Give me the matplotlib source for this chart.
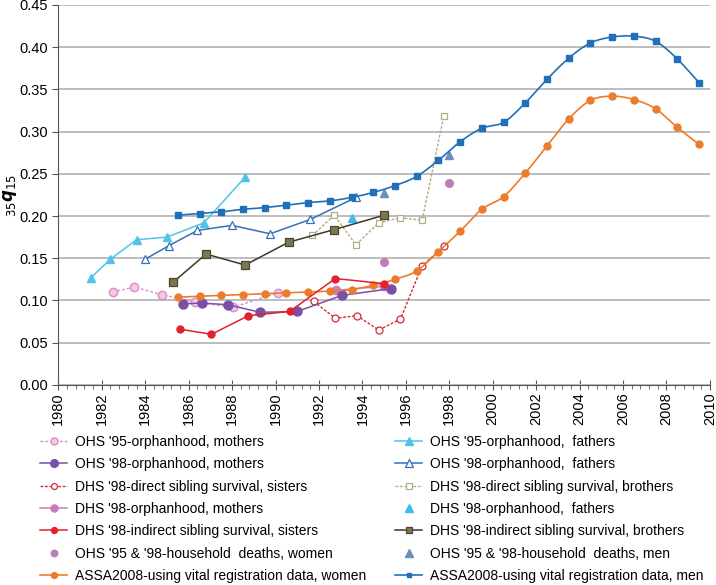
import numpy as np
import matplotlib
matplotlib.use("Agg")
import matplotlib.pyplot as plt
from matplotlib.ticker import MultipleLocator, FormatStrFormatter

plt.rcParams['font.family'] = ['Liberation Sans', 'DejaVu Sans']

# ---------------- data ----------------
ohs95_mothers_x = [1982.5, 1983.5, 1984.75, 1986.3, 1988.05, 1990.1]
ohs95_mothers_y = [0.110, 0.116, 0.107, 0.098, 0.092, 0.109]

ohs98_mothers_x = [1985.75, 1986.6, 1987.8, 1989.3, 1991.0, 1993.05, 1995.3]
ohs98_mothers_y = [0.096, 0.097, 0.095, 0.086, 0.087, 0.106, 0.114]

dhs_direct_sis_x = [1991.75, 1992.75, 1993.75, 1994.75, 1995.75, 1996.75, 1997.75]
dhs_direct_sis_y = [0.099, 0.079, 0.082, 0.065, 0.078, 0.141, 0.164]

dhs_orph_mothers_x = [1992.8, 1995.0]
dhs_orph_mothers_y = [0.112, 0.117]

dhs_indirect_sis_x = [1985.6, 1987.05, 1988.75, 1990.65, 1992.75, 1995.0]
dhs_indirect_sis_y = [0.066, 0.060, 0.082, 0.087, 0.126, 0.120]

hh_women_x = [1995.0, 1998.0]
hh_women_y = [0.146, 0.239]

assa_years = [1985.5 + i for i in range(25)]
assa_women = [0.104, 0.105, 0.106, 0.107, 0.108, 0.109, 0.110, 0.111, 0.113,
              0.118, 0.125, 0.135, 0.158, 0.182, 0.208, 0.223, 0.251, 0.283,
              0.315, 0.337, 0.342, 0.338, 0.327, 0.305, 0.285]
assa_men = [0.201, 0.203, 0.205, 0.208, 0.210, 0.213, 0.216, 0.218, 0.222,
            0.228, 0.236, 0.247, 0.266, 0.288, 0.304, 0.311, 0.334, 0.362,
            0.387, 0.405, 0.412, 0.413, 0.407, 0.386, 0.358]

ohs95_fathers_x = [1981.5, 1982.4, 1983.6, 1985.0, 1986.7, 1988.6]
ohs95_fathers_y = [0.127, 0.149, 0.172, 0.175, 0.192, 0.246]

ohs98_fathers_x = [1984.0, 1985.1, 1986.4, 1988.0, 1989.75, 1991.6, 1993.7]
ohs98_fathers_y = [0.149, 0.165, 0.183, 0.189, 0.179, 0.196, 0.222]

dhs_direct_bro_x = [1991.7, 1992.7, 1993.7, 1994.75, 1995.75, 1996.75, 1997.75]
dhs_direct_bro_y = [0.177, 0.201, 0.166, 0.192, 0.198, 0.195, 0.319]

dhs_orph_fathers_x = [1993.5]
dhs_orph_fathers_y = [0.198]

dhs_indirect_bro_x = [1985.3, 1986.8, 1988.6, 1990.6, 1992.7, 1995.0]
dhs_indirect_bro_y = [0.122, 0.155, 0.142, 0.169, 0.184, 0.201]

hh_men_x = [1995.0, 1998.0]
hh_men_y = [0.227, 0.272]

labels_left = ["OHS '95-orphanhood, mothers",
               "OHS '98-orphanhood, mothers",
               "DHS '98-direct sibling survival, sisters",
               "DHS '98-orphanhood, mothers",
               "DHS '98-indirect sibling survival, sisters",
               "OHS '95 & '98-household  deaths, women",
               "ASSA2008-using vital registration data, women"]
labels_right = ["OHS '95-orphanhood,  fathers",
                "OHS '98-orphanhood,  fathers",
                "DHS '98-direct sibling survival, brothers",
                "DHS '98-orphanhood,  fathers",
                "DHS '98-indirect sibling survival, brothers",
                "OHS '95 & '98-household  deaths, men",
                "ASSA2008-using vital registration data, men"]


def catmull(xs, ys, n=20):
    xs = np.asarray(xs, float)
    ys = np.asarray(ys, float)
    P = np.column_stack([xs, ys])
    P = np.vstack([P[0] - (P[1] - P[0]), P, P[-1] + (P[-1] - P[-2])])
    out = []
    for i in range(1, len(P) - 2):
        p0, p1, p2, p3 = P[i - 1], P[i], P[i + 1], P[i + 2]
        for t in np.linspace(0, 1, n, endpoint=False):
            t2, t3 = t * t, t * t * t
            pt = 0.5 * ((2 * p1) + (-p0 + p2) * t + (2 * p0 - 5 * p1 + 4 * p2 - p3) * t2
                        + (-p0 + 3 * p1 - 3 * p2 + p3) * t3)
            out.append(pt)
    out.append(P[-2])
    out = np.array(out)
    idx = list(range(0, len(out), n))
    return out[:, 0], out[:, 1], idx


fig = plt.figure(figsize=(7.16, 5.85), dpi=100)
ax = fig.add_axes([0.0815, 0.342, 0.9100, 0.6495])

handles_left, handles_right = [], []

h, = ax.plot(ohs95_mothers_x, ohs95_mothers_y, ls=(0, (2, 1.5)), lw=1.0, color='#D98CC8',
             marker='o', ms=6, mfc='#F6C8E3', mec='#D98CC8', mew=1.0, zorder=3)
handles_left.append(h)
h, = ax.plot(ohs98_mothers_x, ohs98_mothers_y, ls='-', lw=1.1, color='#7A50A6',
             marker='o', ms=6.5, mfc='#7A50A6', mec='#7A50A6', zorder=4)
handles_left.append(h)
h, = ax.plot(dhs_direct_sis_x, dhs_direct_sis_y, ls=(0, (2, 1.2)), lw=1.0, color='#D22A35',
             marker='o', ms=5, mfc='white', mec='#D22A35', mew=0.9, zorder=3)
handles_left.append(h)
h, = ax.plot(dhs_orph_mothers_x, dhs_orph_mothers_y, ls='-', lw=1.1, color='#C97DBE',
             marker='o', ms=6, mfc='#C97DBE', mec='#C97DBE', zorder=3)
handles_left.append(h)
h, = ax.plot(dhs_indirect_sis_x, dhs_indirect_sis_y, ls='-', lw=1.1, color='#E3202C',
             marker='o', ms=5, mfc='#E3202C', mec='#E3202C', zorder=5)
handles_left.append(h)
h, = ax.plot(hh_women_x, hh_women_y, ls='none', marker='o', ms=5.5,
             mfc='#C07CB6', mec='#C07CB6', zorder=3)
handles_left.append(h)
sx, sy, idx = catmull(assa_years, assa_women)
h, = ax.plot(sx, sy, ls='-', lw=1.2, color='#EC7B2C', marker='o', ms=5,
             mfc='#EC7B2C', mec='#EC7B2C', markevery=idx, zorder=4)
handles_left.append(h)

h, = ax.plot(ohs95_fathers_x, ohs95_fathers_y, ls='-', lw=1.1, color='#4FC3EC',
             marker='^', ms=6, mfc='#4FC3EC', mec='#4FC3EC', zorder=3)
handles_right.append(h)
h, = ax.plot(ohs98_fathers_x, ohs98_fathers_y, ls='-', lw=1.1, color='#3470B8',
             marker='^', ms=6, mfc='white', mec='#3470B8', mew=0.9, zorder=3)
handles_right.append(h)
h, = ax.plot(dhs_direct_bro_x, dhs_direct_bro_y, ls=(0, (2, 1.2)), lw=1.0, color='#B3AB84',
             marker='s', ms=5, mfc='white', mec='#B3AB84', mew=0.9, zorder=3)
handles_right.append(h)
h, = ax.plot(dhs_orph_fathers_x, dhs_orph_fathers_y, ls='none', marker='^', ms=6,
             mfc='#3FBBEB', mec='#3FBBEB', zorder=3)
handles_right.append(h)
h, = ax.plot(dhs_indirect_bro_x, dhs_indirect_bro_y, ls='-', lw=1.1, color='#3A3828',
             marker='s', ms=5.5, mfc='#7E7650', mec='#4A4630', mew=0.9, zorder=3)
handles_right.append(h)
h, = ax.plot(hh_men_x, hh_men_y, ls='none', marker='^', ms=6,
             mfc='#6B8EBC', mec='#6B8EBC', zorder=3)
handles_right.append(h)
sx, sy, idx = catmull(assa_years, assa_men)
h, = ax.plot(sx, sy, ls='-', lw=1.2, color='#1F70B8', marker='s', ms=4,
             mfc='#1F70B8', mec='#1F70B8', markevery=idx, zorder=4)
handles_right.append(h)

ax.set_xlim(1980, 2010)
ax.set_ylim(0, 0.45)
ax.xaxis.set_major_locator(MultipleLocator(2))
ax.xaxis.set_minor_locator(MultipleLocator(0.4))
ax.yaxis.set_major_locator(MultipleLocator(0.05))
ax.yaxis.set_major_formatter(FormatStrFormatter('%.2f'))
ax.xaxis.set_major_formatter(FormatStrFormatter('%d'))
ax.grid(axis='y', color='#BDBDBD', lw=1.4)
ax.set_axisbelow(True)
for s in ['top', 'right']:
    ax.spines[s].set_visible(False)
ax.spines['left'].set_color('#555555')
ax.spines['bottom'].set_color('#555555')
ax.tick_params(axis='x', which='major', direction='inout', length=7, color='#555555',
               labelsize=10.5, rotation=90, pad=2)
ax.tick_params(axis='x', which='minor', direction='out', length=3, color='#555555')
ax.tick_params(axis='y', which='major', direction='out', length=4, color='#555555',
               labelsize=10.5)
fig.text(10 / 716, 1 - 195 / 585, r'$_{35}\mathbfit{q}_{15}$', fontsize=12,
         rotation=90, ha='center', va='center')

common = dict(loc='upper left', frameon=False, fontsize=10.0, handlelength=1.95,
              labelspacing=0.6, handletextpad=0.6, borderpad=0.0,
              borderaxespad=0.0, markerscale=0.85)
fig.legend(handles_left, labels_left, bbox_to_anchor=(40 / 716, 1 - 435 / 585), **common)
fig.legend(handles_right, labels_right, bbox_to_anchor=(395 / 716, 1 - 435 / 585), **common)
fig.savefig('out.png', dpi=100)
